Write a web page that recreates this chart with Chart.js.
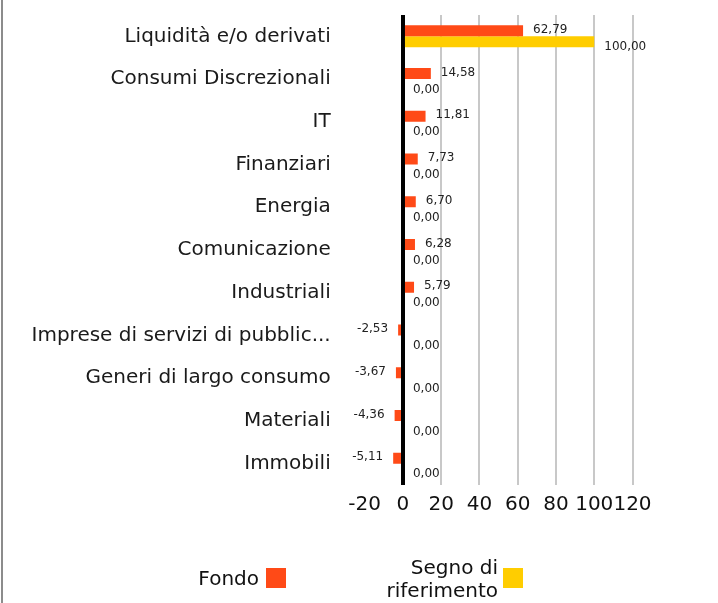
<!DOCTYPE html>
<html>
<head>
<meta charset="utf-8">
<script src="https://cdn.jsdelivr.net/npm/chart.js@4/dist/chart.umd.min.js"></script>
<style>
  html, body { margin: 0; padding: 0; background: #fff; }
  #wrap { position: relative; width: 718px; height: 603px; overflow: hidden; }
  #border { position: absolute; left: 1px; top: 0; width: 2px; height: 603px; background: #8c8c8c; }
  canvas { position: absolute; left: 0; top: 0; }
  .lg { position: absolute; font-family: "DejaVu Sans", sans-serif; font-size: 20px; color: #111; line-height: 23px; text-align: right; white-space: pre; }
  .box { position: absolute; width: 20px; height: 20px; }
</style>
</head>
<body>
<div id="wrap">
  <canvas id="c" width="718" height="603"></canvas>
  <div id="border"></div>
  <div class="lg" id="lg0" style="right:459px; top:567px;"></div>
  <div class="box" id="bx0" style="left:266px; top:568px;"></div>
  <div class="lg" id="lg1" style="right:220px; top:556px;"></div>
  <div class="box" id="bx1" style="left:503px; top:568px;"></div>
</div>
<script>
const categories = [
  "Liquidità e/o derivati",
  "Consumi Discrezionali",
  "IT",
  "Finanziari",
  "Energia",
  "Comunicazione",
  "Industriali",
  "Imprese di servizi di pubblic...",
  "Generi di largo consumo",
  "Materiali",
  "Immobili"
];
const fondo = [62.79, 14.58, 11.81, 7.73, 6.70, 6.28, 5.79, -2.53, -3.67, -4.36, -5.11];
const riferimento = [100.00, 0, 0, 0, 0, 0, 0, 0, 0, 0, 0];
const seriesNames = ["Fondo", "Segno di\nriferimento"];
const seriesColors = ["#ff4a17", "#ffcd00"];
const xTicks = [-20, 0, 20, 40, 60, 80, 100, 120];

// HTML legend (text then colour box)
document.getElementById('lg0').textContent = seriesNames[0];
document.getElementById('lg1').textContent = seriesNames[1];
document.getElementById('bx0').style.background = seriesColors[0];
document.getElementById('bx1').style.background = seriesColors[1];

const FONT = '"DejaVu Sans", sans-serif';

const valueLabels = {
  id: 'valueLabels',
  afterDatasetsDraw(chart) {
    const ctx = chart.ctx;
    ctx.save();
    ctx.font = '12px ' + FONT;
    ctx.fillStyle = '#222';
    ctx.textBaseline = 'middle';
    chart.data.datasets.forEach((ds, di) => {
      const meta = chart.getDatasetMeta(di);
      meta.data.forEach((el, i) => {
        const v = ds.data[i];
        const txt = v.toFixed(2).replace('.', ',');
        const dy = di === 0 ? -1 : 5;
        if (v >= 0) {
          ctx.textAlign = 'left';
          ctx.fillText(txt, el.x + 10, el.y + dy);
        } else {
          ctx.textAlign = 'right';
          ctx.fillText(txt, el.x - 10, el.y + dy);
        }
      });
    });
    ctx.restore();
  }
};

new Chart(document.getElementById('c'), {
  type: 'bar',
  data: {
    labels: categories,
    datasets: [
      { label: "Fondo", data: fondo, backgroundColor: seriesColors[0], barThickness: 11, inflateAmount: 0 },
      { label: "Segno di riferimento", data: riferimento, backgroundColor: seriesColors[1], barThickness: 11, inflateAmount: 0 }
    ]
  },
  options: {
    indexAxis: 'y',
    responsive: false,
    animation: false,
    layout: { padding: { left: 0, right: 85.5, top: 15, bottom: 78 } },
    plugins: {
      legend: { display: false },
      tooltip: { enabled: false }
    },
    scales: {
      x: {
        min: -20, max: 120,
        afterBuildTicks(scale) { scale.ticks = xTicks.map(v => ({ value: v })); },
        afterFit(scale) { scale.height = 40; scale.paddingLeft = 0; scale.paddingRight = 0; },
        border: { display: false },
        grid: {
          drawTicks: false,
          color: c => c.tick && c.tick.value === 0 ? '#000' : (c.tick && c.tick.value === -20 ? 'rgba(0,0,0,0)' : '#c8c8c8'),
          lineWidth: c => c.tick && c.tick.value === 0 ? 4 : 2
        },
        ticks: {
          font: { family: FONT, size: 20 },
          color: '#111',
          padding: 8,
          maxRotation: 0,
          autoSkip: false
        }
      },
      y: {
        afterFit(scale) { scale.width = 364.7; scale.paddingTop = 0; scale.paddingBottom = 0; },
        border: { display: false },
        grid: { display: false, drawTicks: false },
        ticks: {
          font: { family: FONT, size: 20 },
          color: '#1a1a1a',
          padding: 34,
          autoSkip: false
        }
      }
    }
  },
  plugins: [valueLabels]
});
</script>
</body>
</html>
